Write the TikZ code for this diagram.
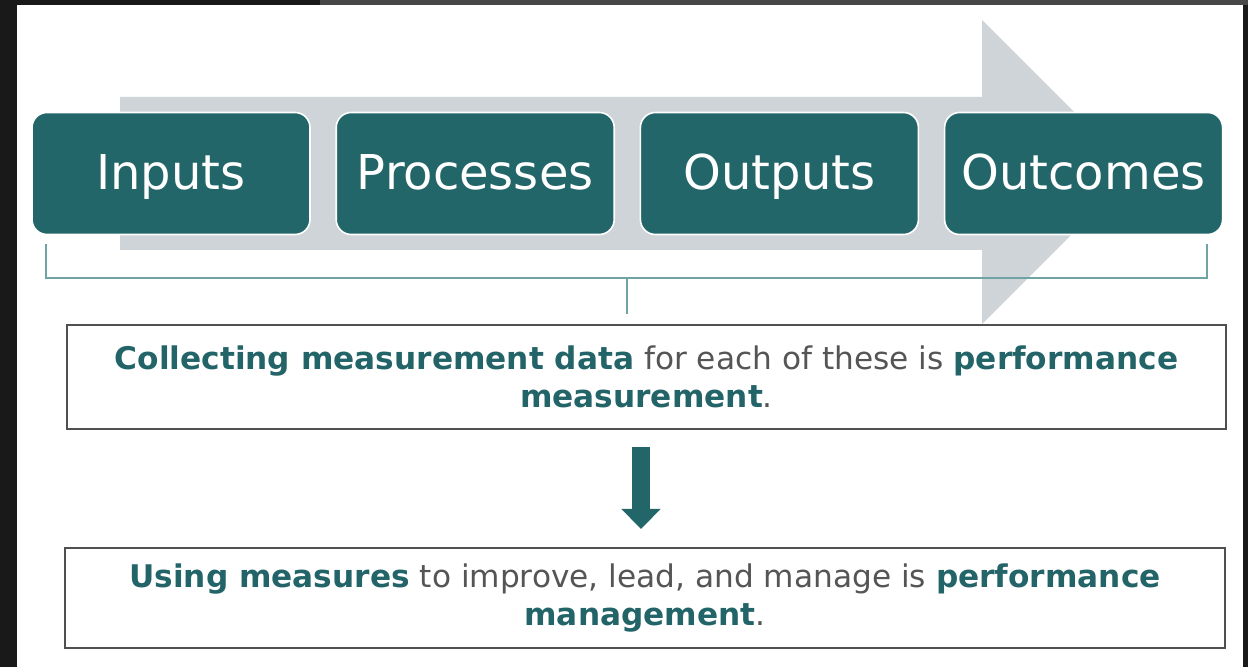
\documentclass[tikz,border=0pt]{standalone}
\usepackage{fontspec}
\setmainfont{DejaVu Sans}
\usepackage{tikz}
\usetikzlibrary{positioning,calc,arrows.meta}
\definecolor{boxteal}{HTML}{236669}
\definecolor{textteal}{HTML}{236468}
\definecolor{bodygray}{HTML}{555555}
\definecolor{arrowgray}{HTML}{CED4D7}
\definecolor{bracketteal}{HTML}{6FA3A6}
\definecolor{framegray}{HTML}{505050}
\newcommand{\hl}[1]{\textcolor{textteal}{\textbf{#1}}}

\begin{document}
\begin{tikzpicture}[x=0.5pt,y=-0.5pt,
  stage/.style = {shape=rectangle, rounded corners=7.5pt,
    draw=white, line width=0.8pt, fill=boxteal, text=white,
    minimum width=139pt, minimum height=61pt, inner sep=0pt,
    text height=17.5pt, text depth=1pt,
    font=\fontsize{24}{28}\selectfont},
  note/.style = {shape=rectangle, draw=framegray, line width=1pt,
    fill=white, align=center, text=bodygray,
    font=\fontsize{15.6}{19}\selectfont},
  bracket/.style = {draw=bracketteal, line width=1pt},
  downarrow/.style = {draw=boxteal, line width=9pt,
    -{Triangle[width=19pt,length=10pt]}}
  ]
  % frame and page
  \useasboundingbox (0,0) rectangle (1248,667);
  \fill[black!90] (0,0) rectangle (1248,667);
  \fill[black!72] (320,0) rectangle (1248,5);
  \fill[white] (17,5) rectangle (1243,667);

  % big gray arrow behind the stages
  \fill[arrowgray] (120,97) -- (982,97) -- (982,20) -- (1134,172)
    -- (982,324) -- (982,250) -- (120,250) -- cycle;

  \node[stage] (inputs) at (171,173.5) {Inputs};
  \node[stage, right=12.3pt of inputs] (processes) {Processes};
  \node[stage, right=12.3pt of processes] (outputs) {Outputs};
  \node[stage, right=12.3pt of outputs] (outcomes) {Outcomes};

  \node[note, minimum width=579.5pt, minimum height=52pt] (measurement)
    at (646.5,377)
    {\hl{Collecting measurement data} for each of these is \hl{performance}\\
     \hl{measurement}.};
  \node[note, minimum width=580pt, minimum height=50pt] (management)
    at (645,598)
    {\hl{Using measures} to improve, lead, and manage is \hl{performance}\\
     \hl{management}.};

  % bracket under the stages
  \coordinate (bl) at ($(inputs.south west)+(15,9)$);
  \coordinate (br) at ($(outcomes.south east)+(-16,9)$);
  \draw[bracket] (bl) -- ++(0,34) coordinate (bl2) -| (br);
  \coordinate (stem) at ($(bl2)!0.5!(bl2 -| br)$);
  \draw[bracket] (stem) -- ([yshift=5pt]stem |- measurement.north);

  \draw[downarrow] ([xshift=-2.75pt,yshift=-8.5pt]measurement.south)
    -- ([xshift=-2.75pt,yshift=9pt]measurement.south |- management.north);
\end{tikzpicture}
\end{document}
